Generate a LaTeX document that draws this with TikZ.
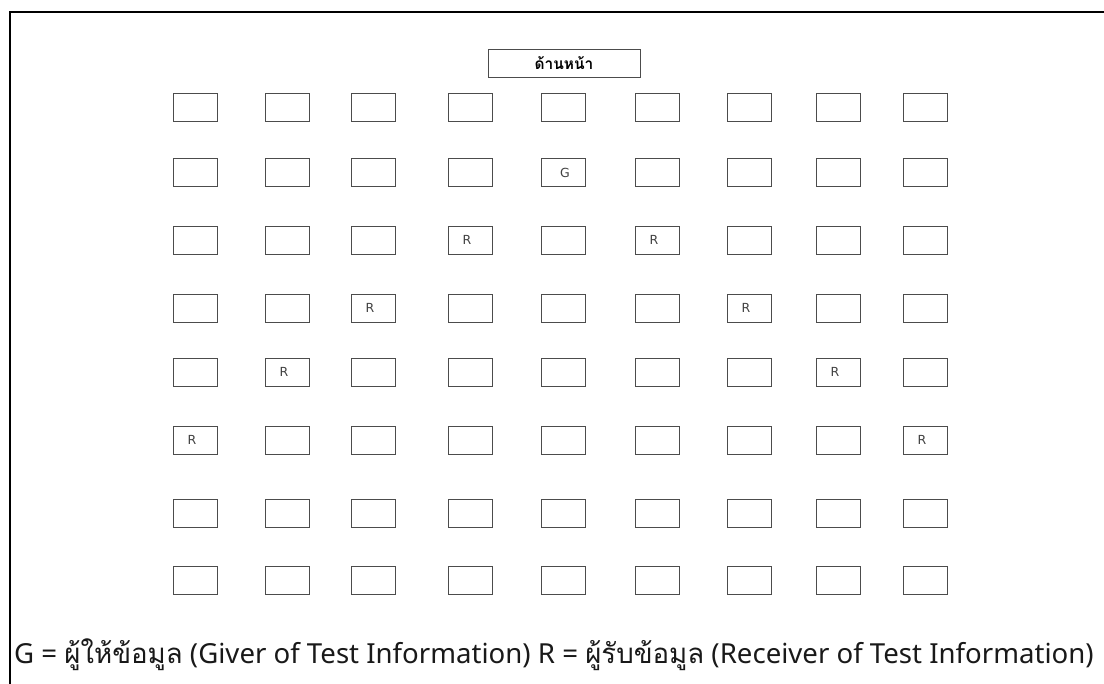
\documentclass[tikz,border=0pt]{standalone}
\usepackage{fontspec}
\setmainfont{Noto Sans}
\newfontfamily\thai[Script=Thai]{Loma}
\newfontfamily\seatfont{DejaVu Sans}
\begin{document}
\begin{tikzpicture}[x=1pt,y=-1pt,
  seat/.style={draw=black!70, line width=0.9pt, minimum width=44pt, minimum height=28pt, inner sep=0pt},
  seatlabel/.style={inner sep=0pt, font=\seatfont\fontsize{12.5}{14}\selectfont, text=black!75},
  frontbox/.style={draw=black!70, line width=0.9pt, minimum width=152pt, minimum height=28pt, inner sep=0pt, font=\thai\bfseries\fontsize{15.5}{18}\selectfont},
  caption/.style={inner sep=0pt, anchor=base west, font=\fontsize{27.6}{32}\selectfont, text=black!90}]
\useasboundingbox (0,0) rectangle (1104,684);
\draw[line width=2pt] (9.5,684) -- (9.5,12) -- (1104,12);
\node[frontbox] (front) at (564,63) {ด้านหน้า};
\foreach \x [count=\c] in {195,287,373,470,563,657,749,838,925} {
  \foreach \y [count=\r] in {107.5,172.5,240,308,372,440,513.5,580.5} {
    \node[seat] (s\r-\c) at (\x,\y) {};
  }
}
\node[seatlabel] (g) at ([xshift=2pt]s2-5.center) {G};
\foreach \r/\c [count=\i] in {3/4,3/6,4/3,4/7,5/2,5/8,6/1,6/9} {
  \node[seatlabel] (r\i) at ([xshift=-3pt]s\r-\c.center) {R};
}
\node[caption] (cap) at (14,663) {G = {\thai ผู้ให้ข้อมูล} (Giver of Test Information) R = {\thai ผู้รับข้อมูล} (Receiver of Test Information)};
\end{tikzpicture}
\end{document}
